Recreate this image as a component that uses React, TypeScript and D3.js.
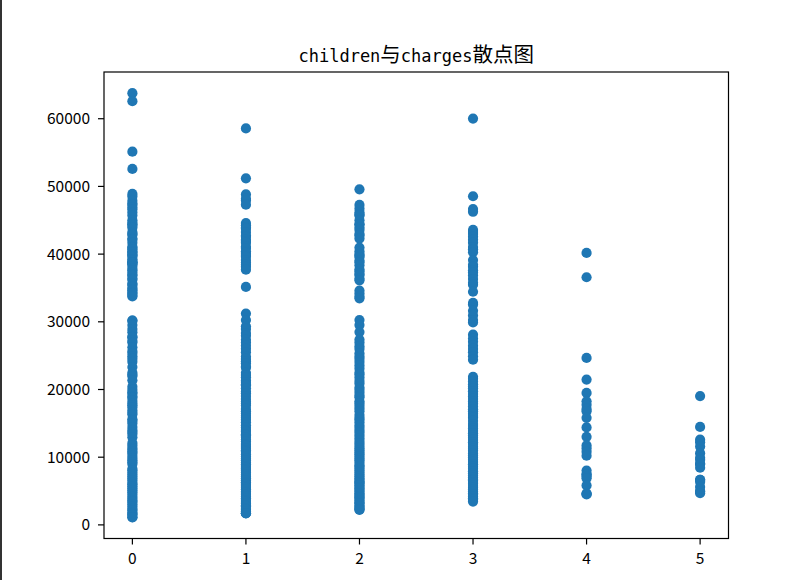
import React from "react";
import * as d3 from "d3";

// Number of children per policy holder (x) and the insurance charges recorded for each group (y)
const childCounts = [0, 1, 2, 3, 4, 5];

const charges0 = [
  63770.43, 62592.87, 55135.4, 52590.83,
  48885.14, 48517.56, 47896.79, 47462.89, 47291.06, 46889.26, 46599.11, 46130.53, 45702.02, 45008.96,
  44641.2, 44423.8, 44202.65, 43896.38, 43254.42, 42983.46, 42856.84, 42303.69, 42112.24, 41661.6,
  41097.16, 40941.29, 40720.55, 40419.02, 40273.65, 39983.43, 39836.52, 39611.76, 39241.44, 38998.55,
  38792.69, 38711.0, 38709.18, 38511.63, 38245.59, 37829.72, 37607.53, 37270.15, 36950.26, 36837.47,
  36397.58, 36219.41, 35595.59, 35585.58, 35147.53, 34838.87, 34672.15, 34303.17, 34254.05, 33900.65,
  33750.29,
  30184.94, 30166.62, 29523.17, 28923.14, 28468.92, 27808.73, 27724.29, 27218.44, 26926.51, 26236.58,
  25678.78, 25382.3, 24915.05, 24535.7, 24106.91, 23306.55, 22478.6, 22192.44, 21984.47, 21348.71,
  20420.6, 19964.75, 19594.81, 19361.0, 18955.22, 18767.74, 18310.74, 17929.3, 17663.14, 17352.68,
  16884.92, 16577.78, 16297.85, 15612.19, 15359.1, 14988.43, 14451.84, 14001.29, 13725.47, 13429.04,
  12949.16, 12105.32, 11741.73, 11356.66, 11082.58, 10797.34, 10602.39, 10226.28, 9875.68, 9563.03,
  9264.8, 8988.16, 8310.84, 8059.68, 7740.34, 7441.05, 7147.11, 6858.48, 6571.54, 6203.9,
  5989.52, 5709.16, 5425.02, 5125.22, 4827.9, 4504.66, 4149.74, 3866.86, 3556.92, 3393.36,
  3046.06, 2721.32, 2395.17, 2155.68, 1826.84, 1625.43, 1532.47, 1137.01, 1121.87,
];

const charges1 = [
  58571.07, 51194.56, 48824.45, 48173.36, 47928.03, 47305.31,
  44585.46, 44260.75, 43943.88, 43753.34, 43254.42, 42760.5, 42560.43, 42124.52, 41919.1, 41661.6,
  41097.16, 40904.2, 40419.02, 40182.25, 39871.7, 39597.41, 39125.33, 38746.36, 38415.47, 38126.25,
  37701.88,
  35160.13,
  31210.0, 30260.0, 29330.98, 28950.47, 28340.19, 27941.29, 27346.04, 26926.51, 26467.1, 26018.95,
  25517.11, 24873.38, 24513.09, 24180.93, 23887.66, 23401.31, 23244.79, 22462.04, 22144.03, 21797.0,
  21344.85, 21098.55, 20781.49, 20630.28, 20177.67, 19719.69, 19442.35, 19023.26, 18608.26, 18218.16,
  17942.11, 17626.24, 17128.43, 16776.3, 16455.71, 16115.3, 15820.7, 15518.18, 15161.53, 14711.74,
  14358.36, 14001.13, 13770.1, 13405.39, 13228.85, 12981.35, 12629.9, 12323.94, 11946.63, 11658.38,
  11345.52, 11033.66, 10795.94, 10436.1, 10107.22, 9800.89, 9566.99, 9225.26, 8944.12, 8688.86,
  8413.46, 8240.59, 7986.48, 7731.43, 7421.19, 7147.47, 6875.96, 6600.36, 6313.76, 6186.13,
  5920.1, 5729.01, 5478.04, 5253.52, 4949.76, 4719.74, 4433.92, 4185.1, 3925.76, 3659.35,
  3392.98, 3172.02, 2913.57, 2755.02, 2497.04, 2250.84, 2007.95, 1731.68, 1725.55, 1711.03,
];

const charges2 = [
  49577.66,
  47269.85, 46718.16, 46200.99, 45863.21, 45710.21, 45008.96, 44423.8, 44400.41, 43921.18, 43578.94,
  42983.46, 42760.5, 42303.69,
  40974.16, 40419.02, 40003.33, 39774.28, 39556.49, 39047.29, 38792.69, 38344.57, 37742.58, 37484.45,
  37079.37, 36910.61, 36397.58, 36124.57,
  34617.84, 34166.27, 33732.69, 33471.97,
  30259.99, 29523.17, 28476.73, 27375.9, 26926.51, 26392.26, 25992.82, 25333.33, 24869.84, 24513.09,
  24059.68, 23563.02, 23082.96, 22478.6, 22218.11, 21774.32, 21259.38, 20878.78, 20296.86, 19933.46,
  19515.54, 19107.78, 18838.39, 18246.5, 17942.11, 17560.38, 17179.52, 16796.41, 16232.85, 15828.82,
  15555.19, 15170.07, 14692.67, 14319.03, 13937.67, 13607.37, 13217.09, 12815.44, 12404.88, 12029.29,
  11658.12, 11326.71, 11033.66, 10704.47, 10436.1, 10118.42, 9800.89, 9541.7, 9193.84, 8823.28,
  8606.22, 8302.54, 8027.97, 7726.85, 7441.5, 7173.36, 6877.98, 6664.69, 6406.41, 6272.48,
  6079.67, 5846.92, 5594.85, 5383.54, 5152.13, 4906.41, 4661.29, 4441.21, 4260.74, 4058.12,
  3875.73, 3597.6, 3353.28, 3180.51, 2913.57, 2680.95, 2498.41, 2304.0, 2198.19,
];

const charges3 = [
  60021.4, 48549.18, 46661.44, 46255.11,
  43578.94, 43254.42, 42969.85, 42560.43, 42124.52, 41676.08, 41034.22, 40720.55, 40273.65,
  39125.33, 38415.47, 38126.25, 37607.53, 37270.15, 36837.47, 36307.8, 35764.33, 35491.64,
  34439.86,
  32787.46, 32548.34, 31620.0, 30942.19, 30260.0, 29907.0,
  28101.33, 27533.91, 27037.91, 26467.1, 25992.82, 25517.11, 24915.05, 24393.62,
  21880.82, 21595.38, 21195.82, 20773.63, 20462.0, 20167.34, 19749.38, 19350.37, 18963.17, 18608.26,
  18223.45, 17878.9, 17496.31, 17081.08, 16776.3, 16420.49, 16069.08, 15817.99, 15359.1, 14901.52,
  14590.63, 14235.07, 13880.95, 13555.0, 13204.29, 12890.06, 12557.61, 12222.9, 11931.13, 11552.9,
  11238.6, 10942.13, 10560.49, 10264.44, 9964.06, 9630.4, 9301.89, 8968.33, 8596.83, 8310.84,
  7935.29, 7623.52, 7281.51, 6985.51, 6710.19, 6571.02, 6338.08, 6059.17, 5757.41, 5478.04,
  5246.05, 4949.76, 4670.64, 4449.46, 4189.11, 3943.6, 3704.35, 3443.06,
];

const charges4 = [
  40182.25, 36580.28, 24671.66, 21472.48, 19496.72, 18246.5, 17748.51, 17128.43, 16796.41, 15817.99,
  14394.4, 13012.21, 11735.88, 11299.34, 10795.94, 10218.01, 8017.06, 7512.27, 7445.92, 7147.47,
  6875.96, 5836.52, 4673.39, 4561.19, 4504.66,
];

const charges5 = [
  19023.26, 14478.33, 12592.53, 12222.9, 11576.13, 10600.55, 9910.36, 9617.66, 9061.52, 8965.8,
  8442.67, 6666.24, 6653.79, 6358.78, 5615.37, 4992.38, 4915.06, 4687.8,
];

const chargesByChildren = [charges0, charges1, charges2, charges3, charges4, charges5];

const yTickValues = [0, 10000, 20000, 30000, 40000, 50000, 60000];
const xTickValues = [0, 1, 2, 3, 4, 5];

const titleParts = [
  { text: "children", cjk: false },
  { text: "与", cjk: true },
  { text: "charges", cjk: false },
  { text: "散点图", cjk: true },
];

const W = 787;
const H = 580;
const plot = { left: 104, right: 728.5, top: 72, bottom: 538.5 };
const dotColor = "#1f77b4";
const tickFont = "'Noto Sans CJK SC', 'Noto Sans', sans-serif";

export default function App() {
  const points = chargesByChildren.flatMap((vals, i) =>
    vals.map((v) => ({ x: childCounts[i], y: v }))
  );

  // Autoscale with a 5% margin on each side, like matplotlib's default
  const [xMin, xMax] = d3.extent(points, (d) => d.x) as [number, number];
  const [yMin, yMax] = d3.extent(points, (d) => d.y) as [number, number];
  const xPad = (xMax - xMin) * 0.05;
  const yPad = (yMax - yMin) * 0.05;

  const x = d3.scaleLinear().domain([xMin - xPad, xMax + xPad]).range([plot.left, plot.right]);
  const y = d3.scaleLinear().domain([yMin - yPad, yMax + yPad]).range([plot.bottom, plot.top]);

  const tickLen = 6;
  const monoSize = 17;
  const cjkSize = 20.5;

  return (
    <svg
      width={W}
      height={H}
      style={{ position: "absolute", left: 0, top: 0, background: "#fff" }}
    >
      <rect x={0} y={0} width={W} height={H} fill="#fff" />
      <rect x={0} y={0} width={2} height={H} fill="#333" />

      {/* title */}
      <text x={(plot.left + plot.right) / 2} y={62} textAnchor="middle" fill="#000">
        {titleParts.map((p, i) => (
          <tspan
            key={i}
            fontFamily={p.cjk ? "'Noto Sans CJK SC', sans-serif" : "'DejaVu Sans Mono', monospace"}
            fontSize={p.cjk ? cjkSize : monoSize}
          >
            {p.text}
          </tspan>
        ))}
      </text>

      {/* points */}
      <g fill={dotColor}>
        {points.map((d, i) => (
          <circle key={i} cx={x(d.x)} cy={y(d.y)} r={5.1} />
        ))}
      </g>

      {/* frame */}
      <rect
        x={plot.left}
        y={plot.top}
        width={plot.right - plot.left}
        height={plot.bottom - plot.top}
        fill="none"
        stroke="#000"
        strokeWidth={1.2}
      />

      {/* y axis */}
      <g>
        {yTickValues.map((t) => (
          <g key={t}>
            <line
              x1={plot.left - tickLen}
              x2={plot.left}
              y1={y(t)}
              y2={y(t)}
              stroke="#000"
              strokeWidth={1.2}
            />
            <text
              x={plot.left - tickLen - 8}
              y={y(t) + 5.6}
              textAnchor="end"
              fontFamily={tickFont}
              fontSize={15.5}
              fill="#000"
            >
              {t}
            </text>
          </g>
        ))}
      </g>

      {/* x axis */}
      <g>
        {xTickValues.map((t) => (
          <g key={t}>
            <line
              x1={x(t)}
              x2={x(t)}
              y1={plot.bottom}
              y2={plot.bottom + tickLen}
              stroke="#000"
              strokeWidth={1.2}
            />
            <text
              x={x(t)}
              y={564}
              textAnchor="middle"
              fontFamily={tickFont}
              fontSize={15.5}
              fill="#000"
            >
              {t}
            </text>
          </g>
        ))}
      </g>
    </svg>
  );
}
